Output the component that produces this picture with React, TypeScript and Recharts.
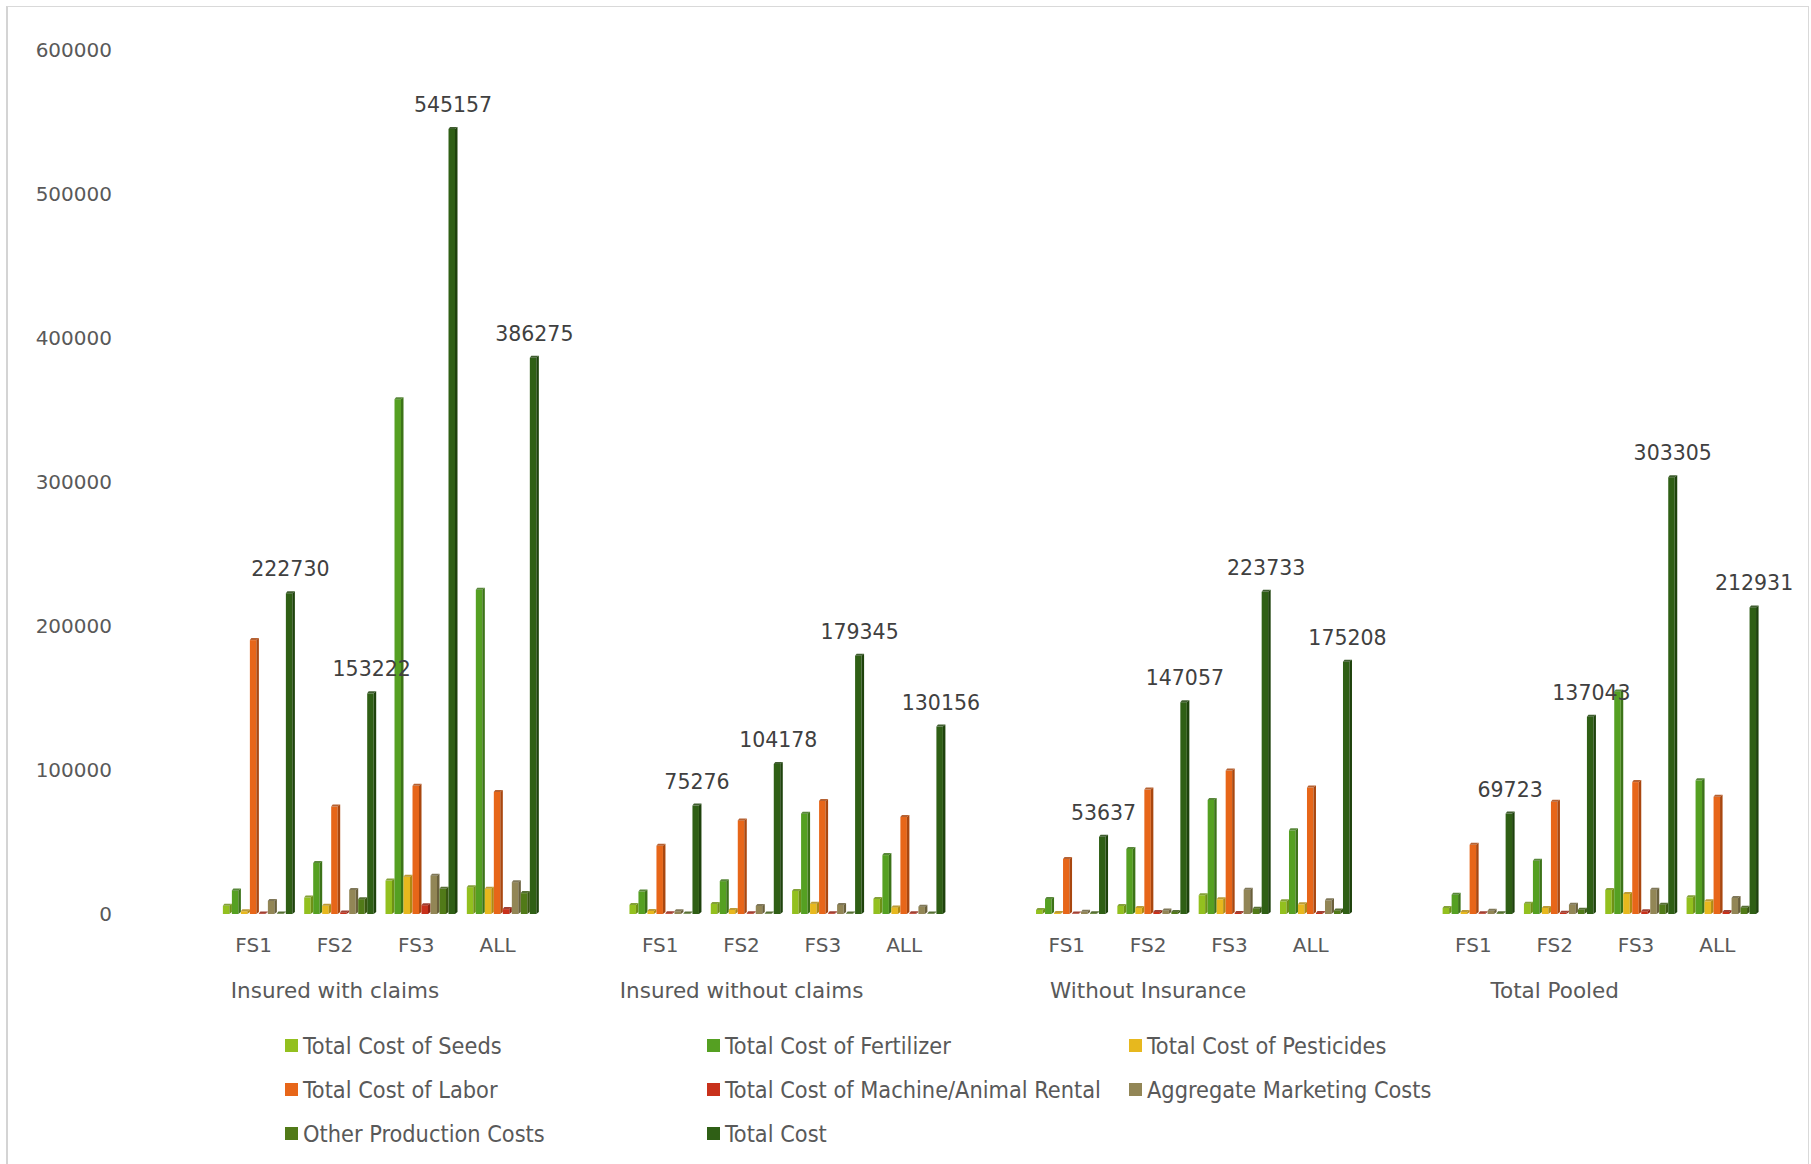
import { BarChart, Bar, XAxis, YAxis, LabelList } from 'recharts';

const groups = ['Insured with claims', 'Insured without claims', 'Without Insurance', 'Total Pooled'];
const farms = ['FS1', 'FS2', 'FS3', 'ALL'];
const yTicks = [0, 100000, 200000, 300000, 400000, 500000, 600000];

// 16 values per series: 4 groups x (FS1, FS2, FS3, ALL)
const seeds = [5700, 11400, 23200, 18600, 6300, 7000, 16000, 10500, 2800, 5600, 13000, 8800, 4200, 7200, 16700, 11600];
const fertilizer = [16400, 35400, 357500, 225200, 15600, 22800, 69700, 40900, 10400, 45200, 79200, 58100, 13400, 37000, 154600, 92800];
const pesticides = [1900, 5700, 25900, 17500, 2100, 2800, 7200, 4600, 700, 4200, 10200, 6700, 1400, 4200, 13900, 8800];
const labor = [190200, 74600, 89000, 84800, 47400, 65000, 78500, 67400, 38200, 86400, 99600, 87800, 48100, 78000, 91600, 81400];
const rental = [400, 1100, 6100, 3400, 500, 500, 500, 500, 300, 1400, 700, 700, 500, 900, 1900, 1400];
const marketing = [9100, 16700, 26600, 22100, 1900, 5600, 6300, 5100, 1600, 2500, 16900, 9500, 2300, 6500, 16900, 11100];
const other = [300, 10300, 17500, 14500, 300, 300, 300, 300, 500, 1400, 3700, 2500, 500, 3000, 6500, 4400];
const total = [222730, 153222, 545157, 386275, 75276, 104178, 179345, 130156, 53637, 147057, 223733, 175208, 69723, 137043, 303305, 212931];

const series = [
  { key: 'seeds', name: 'Total Cost of Seeds', values: seeds, color: '#93c01f', side: '#6e9116' },
  { key: 'fertilizer', name: 'Total Cost of Fertilizer', values: fertilizer, color: '#55a022', side: '#3c7318' },
  { key: 'pesticides', name: 'Total Cost of Pesticides', values: pesticides, color: '#e7b81e', side: '#b08a12' },
  { key: 'labor', name: 'Total Cost of Labor', values: labor, color: '#e76619', side: '#a9470f' },
  { key: 'rental', name: 'Total Cost of Machine/Animal Rental', values: rental, color: '#c8311b', side: '#8f2011' },
  { key: 'marketing', name: 'Aggregate Marketing Costs', values: marketing, color: '#928656', side: '#6a603c' },
  { key: 'other', name: 'Other Production Costs', values: other, color: '#517a18', side: '#385611' },
  { key: 'total', name: 'Total Cost', values: total, color: '#2f5f15', side: '#1e420c' },
];

const rows: any[] = [];
groups.forEach((g, gi) => {
  farms.forEach((f, fi) => {
    const row: any = { name: f, grp: fi === 1 ? g : '' };
    series.forEach((s) => {
      row[s.key] = s.values[gi * 4 + fi];
    });
    rows.push(row);
  });
  if (gi < groups.length - 1) rows.push({ name: '', grp: '' });
});

const font = '"DejaVu Sans", sans-serif';
// small shift to the right, like the perspective of the 3D original
const shift = 5;

function make3D(color: string, side: string) {
  return (props: any) => {
    const { y, width, height } = props;
    const x = props.x + shift;
    if (height == null || height <= 0 || width <= 0) return <g />;
    const sw = Math.max(2, width * 0.28);
    const d = 2;
    const fx = x + width - sw;
    return (
      <g>
        <rect x={x} y={y} width={width - sw} height={height} fill={color} />
        <polygon points={`${fx},${y} ${x + width},${y - d} ${x + width},${y + height - d} ${fx},${y + height}`} fill={side} />
        <polygon points={`${x},${y} ${x + sw * 0.6},${y - d} ${x + width},${y - d} ${fx},${y}`} fill={side} opacity={0.85} />
      </g>
    );
  };
}

export default function App() {
  return (
    <div style={{ position: 'absolute', left: 0, top: 0, width: 1811, height: 1164, background: '#fff', overflow: 'hidden' }}>
      <div style={{ position: 'absolute', left: 6, top: 6, width: 1800, height: 1170, border: '1px solid #d9d9d9', borderLeft: '2px solid #d4d4d4' }} />
      <BarChart
        width={1811}
        height={1164}
        data={rows}
        margin={{ top: 50, right: 53, bottom: 160, left: 0 }}
        barCategoryGap="6%"
        barGap={0}
        style={{ position: 'absolute', left: 0, top: 0 }}
      >
        <YAxis
          width={213}
          domain={[0, 600000]}
          ticks={yTicks}
          interval={0}
          axisLine={false}
          tickLine={false}
          tickSize={0}
          tickMargin={101}
          tick={{ fill: '#595959', fontSize: 20, fontFamily: font }}
        />
        <XAxis
          dataKey="name"
          xAxisId={0}
          height={40}
          interval={0}
          axisLine={false}
          tickLine={false}
          tickSize={0}
          tickMargin={24}
          tick={{ fill: '#595959', fontSize: 20, fontFamily: font }}
        />
        <XAxis
          dataKey="grp"
          xAxisId="grp"
          height={50}
          interval={0}
          axisLine={false}
          tickLine={false}
          tickSize={0}
          tickMargin={29}
          tick={{ fill: '#595959', fontSize: 21.5, fontFamily: font }}
        />
        {series.map((s) => (
          <Bar
            key={s.key}
            dataKey={s.key}
            name={s.name}
            fill={s.color}
            xAxisId={0}
            isAnimationActive={false}
            shape={make3D(s.color, s.side)}
          >
            {s.key === 'total' && (
              <LabelList
                dataKey="total"
                position="top"
                offset={17}
                dx={shift}
                fill="#404040"
                fontSize={20.5}
                fontFamily={font}
              />
            )}
          </Bar>
        ))}
      </BarChart>
      <div
        style={{
          position: 'absolute',
          left: 285,
          top: 1023,
          width: 1400,
          display: 'grid',
          gridTemplateColumns: '422px 422px 422px',
          gridAutoRows: '44px',
          fontFamily: '"DejaVu Sans Condensed", "DejaVu Sans", sans-serif',
          fontSize: 23.3,
          color: '#595959',
        }}
      >
        {series.map((s) => (
          <div key={s.key} style={{ display: 'flex', alignItems: 'center', whiteSpace: 'nowrap' }}>
            <span style={{ display: 'inline-block', width: 13, height: 13, background: s.color, marginRight: 5, flex: 'none' }} />
            <span>{s.name}</span>
          </div>
        ))}
      </div>
    </div>
  );
}
